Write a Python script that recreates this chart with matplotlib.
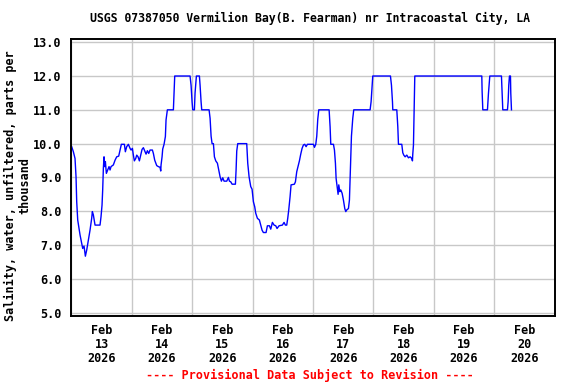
import matplotlib
matplotlib.use("Agg")
import matplotlib.pyplot as plt
import matplotlib.dates as mdates
import numpy as np
import pandas as pd

# hours after Feb 13 2026 00:00 and salinity (ppt)
hours = [0.1, 0.77, 1.43, 1.83, 2.1, 2.5, 3.02, 3.42, 4.08, 4.48, 5.01, 5.54, 6.07, 6.73,
         7.39, 8.05, 8.32, 8.72, 9.38, 11.36, 11.76, 12.16, 12.42, 12.69, 12.95, 13.22,
         13.49, 13.88, 14.41, 14.94, 15.34, 15.74, 16.66, 17.33, 17.99, 18.78, 19.31,
         19.84, 21.04, 21.43, 21.96, 22.63, 23.29, 23.69, 24.22, 24.61, 25.01, 25.54,
         25.94, 26.47, 27.0, 27.53, 28.06, 28.59, 29.25, 29.65, 30.18, 30.71, 31.24,
         32.17, 32.56, 33.09, 33.89, 34.55, 35.21, 35.48, 35.61, 36.01, 36.27, 36.8,
         37.33, 37.59, 38.12, 40.51, 40.77, 41.04, 47.13, 47.53, 47.93, 48.2, 48.86,
         49.12, 49.65, 50.85, 51.11, 51.51, 51.77, 54.69, 55.09, 55.49, 55.88, 56.41,
         56.81, 57.34, 58.0, 58.53, 59.06, 59.59, 60.12, 60.65, 61.71, 62.37, 62.77,
         63.3, 63.83, 65.15, 65.42, 65.68, 66.08, 69.65, 70.05, 70.58, 71.24, 71.77,
         72.3, 72.83, 73.23, 73.89, 74.68, 75.21, 75.74, 76.27, 77.33, 77.86, 78.66,
         79.19, 79.85, 80.51, 81.17, 81.7, 82.5, 83.82, 84.48, 85.01, 85.54, 85.94,
         86.34, 86.87, 87.26, 88.59, 88.99, 89.52, 90.18, 90.58, 91.11, 91.64, 92.17,
         92.7, 93.23, 93.76, 96.15, 96.55, 97.08, 97.47, 97.87, 98.27, 102.38, 102.77,
         103.04, 104.1, 104.5, 104.89, 105.16, 105.56, 105.95, 106.22, 106.62, 107.02,
         107.55, 108.07, 108.6, 109.0, 109.4, 110.06, 110.45, 110.85, 111.25, 111.78,
         112.17, 118.67, 119.06, 119.46, 119.72, 126.75, 127.15, 127.55, 127.68,
         129.27, 129.67, 129.93, 131.25, 131.65, 132.05, 132.58, 133.24, 133.9,
         134.57, 135.23, 135.49, 135.62, 135.89, 136.15, 136.42, 163.04, 163.17,
         163.44, 165.29, 165.69, 166.22, 170.85, 171.11, 171.38, 173.24, 173.5,
         173.76, 174.03, 174.43, 174.56, 174.83]
salinity = [9.91, 9.76, 9.56, 9.02, 8.28, 7.74, 7.49, 7.30, 7.05, 6.90, 6.97, 6.67, 6.85, 7.15,
            7.44, 7.79, 7.99, 7.89, 7.59, 7.59, 7.84, 8.18, 8.63, 9.27, 9.61, 9.32,
            9.47, 9.12, 9.22, 9.32, 9.22, 9.32, 9.37, 9.51, 9.61, 9.63, 9.81,
            9.98, 9.98, 9.76, 9.91, 9.98, 9.86, 9.81, 9.86, 9.66, 9.49, 9.56,
            9.66, 9.61, 9.49, 9.66, 9.83, 9.88, 9.76, 9.69, 9.79, 9.71, 9.81,
            9.81, 9.71, 9.51, 9.35, 9.32, 9.30, 9.19, 9.37, 9.61, 9.84, 9.98,
            10.21, 10.7, 11.0, 11.0, 11.5, 12.0, 12.0, 11.73, 11.24, 11.0, 11.0,
            11.5, 12.0, 12.0, 11.73, 11.24, 11.0, 11.0, 10.75, 10.22, 10.0, 10.0,
            9.61, 9.49, 9.42, 9.22, 9.02, 8.89, 8.99, 8.89, 8.89, 9.0, 8.89,
            8.87, 8.80, 8.80, 9.22, 9.78, 10.0, 10.0, 9.42, 9.02, 8.73, 8.65,
            8.28, 8.13, 7.94, 7.79, 7.74, 7.59, 7.44, 7.37, 7.37, 7.57, 7.57,
            7.47, 7.67, 7.59, 7.57, 7.49, 7.57, 7.59, 7.67, 7.59, 7.59, 7.79,
            8.04, 8.43, 8.78, 8.80, 8.87, 9.17, 9.37, 9.49, 9.69, 9.86, 9.96,
            9.98, 9.91, 9.98, 9.98, 9.89, 9.98, 10.22, 10.72, 11.0, 11.0, 10.5,
            9.98, 9.98, 9.81, 9.42, 8.97, 8.73, 8.50, 8.78, 8.58, 8.63,
            8.53, 8.33, 8.08, 7.99, 8.04, 8.08, 8.33, 9.27, 10.22, 10.75,
            11.0, 11.0, 11.24, 11.73, 12.0, 12.0, 11.73, 11.24, 11.0,
            11.0, 10.5, 9.98, 9.98, 9.73, 9.66, 9.61, 9.66, 9.58,
            9.61, 9.56, 9.49, 9.69, 9.96, 10.95, 12.0, 12.0, 11.54,
            11.0, 11.0, 11.49, 12.0, 12.0, 11.49, 11.0, 11.0, 11.24,
            11.73, 12.0, 12.0, 11.49, 11.0]

start = pd.Timestamp("2026-02-13")
end = pd.Timestamp("2026-02-21")
times = start + pd.to_timedelta(hours, unit="h")

font = "DejaVu Sans Mono"

fig = plt.figure(figsize=(5.76, 3.84), dpi=100)
ax = fig.add_axes([0.124, 0.177, 0.839, 0.721])

ax.plot(times, salinity, color="#0000ff", lw=1.0)

ax.set_xlim(start, end)
ax.set_ylim(4.9, 13.09)

ax.set_yticks(np.arange(5, 13.1, 1))
ax.set_yticklabels([f"{v:.1f}" for v in np.arange(5, 13.1, 1)],
                   fontfamily=font, fontweight="bold", fontsize=8.5)

# gridlines at midnight, date labels at noon
ax.xaxis.set_major_locator(mdates.DayLocator())
ax.xaxis.set_major_formatter(plt.NullFormatter())
ax.xaxis.set_minor_locator(mdates.HourLocator(byhour=[12]))
ax.xaxis.set_minor_formatter(mdates.DateFormatter("%b\n%d\n%Y"))
for lab in ax.get_xticklabels(minor=True):
    lab.set_fontfamily(font)
    lab.set_fontweight("bold")
    lab.set_fontsize(8.5)
    lab.set_linespacing(1.08)

ax.tick_params(axis="both", which="both", length=0)
ax.tick_params(axis="y", pad=7)
ax.tick_params(axis="x", which="minor", pad=6)

ax.grid(True, which="major", color="#c8c8c8", lw=1.0)
ax.set_axisbelow(True)
for sp in ax.spines.values():
    sp.set_linewidth(1.4)
    sp.set_color("black")

fig.text(0.539, 0.951, "USGS 07387050 Vermilion Bay(B. Fearman) nr Intracoastal City, LA",
         ha="center", va="center", fontfamily=font, fontweight="bold", fontsize=8.3)
fig.text(0.031, 0.516, "Salinity, water, unfiltered, parts per\nthousand",
         ha="center", va="center", rotation=90, multialignment="center",
         fontfamily=font, fontweight="bold", fontsize=8.5, linespacing=1.1)
fig.text(0.538, 0.021, "---- Provisional Data Subject to Revision ----",
         ha="center", va="center", color="#ff0000",
         fontfamily=font, fontweight="bold", fontsize=8.5)

fig.savefig("out.png", dpi=100)
